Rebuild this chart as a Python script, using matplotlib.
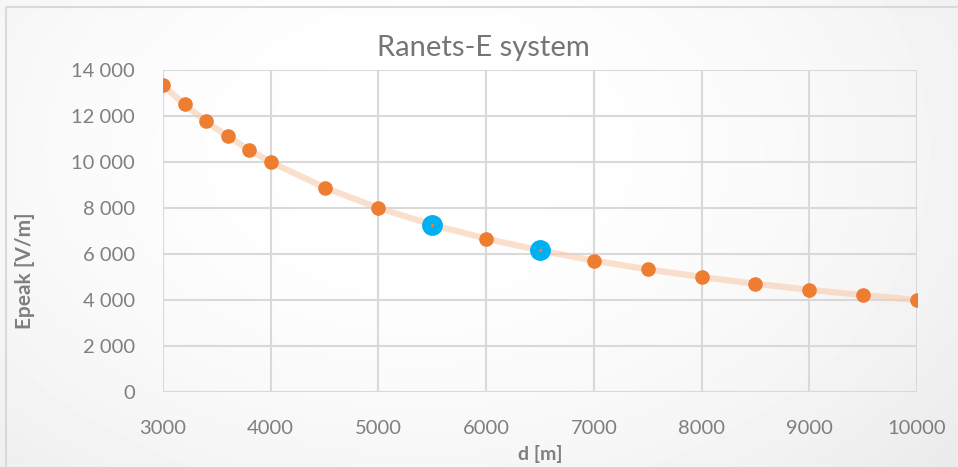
import numpy as np
import matplotlib
matplotlib.use("Agg")
import matplotlib.pyplot as plt
from matplotlib.patches import Rectangle

# distance [m] and peak field [V/m]
d = [3000, 3200, 3400, 3600, 3800, 4000, 4500, 5000, 5500, 6000,
     6500, 7000, 7500, 8000, 8500, 9000, 9500, 10000]
epeak = [13333, 12500, 11765, 11111, 10526, 10000, 8889, 8000, 7273, 6667,
         6154, 5714, 5333, 5000, 4706, 4444, 4211, 4000]
# highlighted points
d_hi = [5500, 6500]
epeak_hi = [7273, 6154]

x_ticks = [3000, 4000, 5000, 6000, 7000, 8000, 9000, 10000]
y_ticks = [0, 2000, 4000, 6000, 8000, 10000, 12000, 14000]

GRIS = "#7f7f7f"
NARANJA = "#ed7d31"
AZUL = "#00b0f0"

plt.rcParams["font.family"] = ["Lato", "DejaVu Sans"]

fig = plt.figure(figsize=(9.58, 4.67), dpi=100)

# fondo con degradado suave y borde del gráfico
bg = fig.add_axes([0, 0, 1, 1])
yy, xx = np.mgrid[0:467, 0:958]
r2 = ((xx - 420) / 650) ** 2 + ((yy - 150) / 450) ** 2
shade = 1.0 - 0.07 * r2
bg.imshow(shade, cmap="gray", vmin=0, vmax=1, extent=[0, 958, 467, 0],
          aspect="auto", interpolation="bilinear")
bg.add_patch(Rectangle((6.5, 6.5), 960, 470, fill=False,
                       edgecolor="#d9d9d9", linewidth=1.5))
bg.set_xlim(0, 958)
bg.set_ylim(467, 0)
bg.axis("off")

ax = fig.add_axes([163 / 958, 75 / 467, 754 / 958, 322 / 467])
ax.set_facecolor("none")
ax.plot(d, epeak, color="#f8cbad", alpha=0.6, linewidth=4.5,
        solid_capstyle="round", zorder=2)
ax.plot(d, epeak, linestyle="none", marker="o", markersize=9.5,
        color=NARANJA, zorder=3)
ax.plot(d_hi, epeak_hi, linestyle="none", marker="o", markersize=14,
        color=AZUL, zorder=4)
ax.plot(d_hi, epeak_hi, linestyle="none", marker="o", markersize=1.5,
        color=NARANJA, zorder=5)

ax.set_xlim(3000, 10000)
ax.set_ylim(0, 14000)
ax.set_xticks(x_ticks)
ax.set_yticks(y_ticks)
ax.set_yticklabels([f"{v:,}".replace(",", " ") for v in y_ticks])
ax.grid(True, color="#d9d9d9", linewidth=1.5, zorder=0)
ax.set_axisbelow(True)
for s in ax.spines.values():
    s.set_visible(False)
ax.tick_params(length=0, colors=GRIS, labelsize=14.5)
ax.tick_params(axis="y", pad=20)
ax.tick_params(axis="x", pad=20)

ax.set_xlabel("d [m]", color=GRIS, fontsize=14, fontweight="bold", labelpad=6)
ax.set_ylabel("Epeak [V/m]", color=GRIS, fontsize=15, fontweight="bold")
ax.yaxis.set_label_coords(-0.17, 0.376)
fig.text(0.505, 0.898, "Ranets-E system", ha="center", va="center",
         color="#757575", fontsize=21)

fig.savefig("out.png", dpi=100)
